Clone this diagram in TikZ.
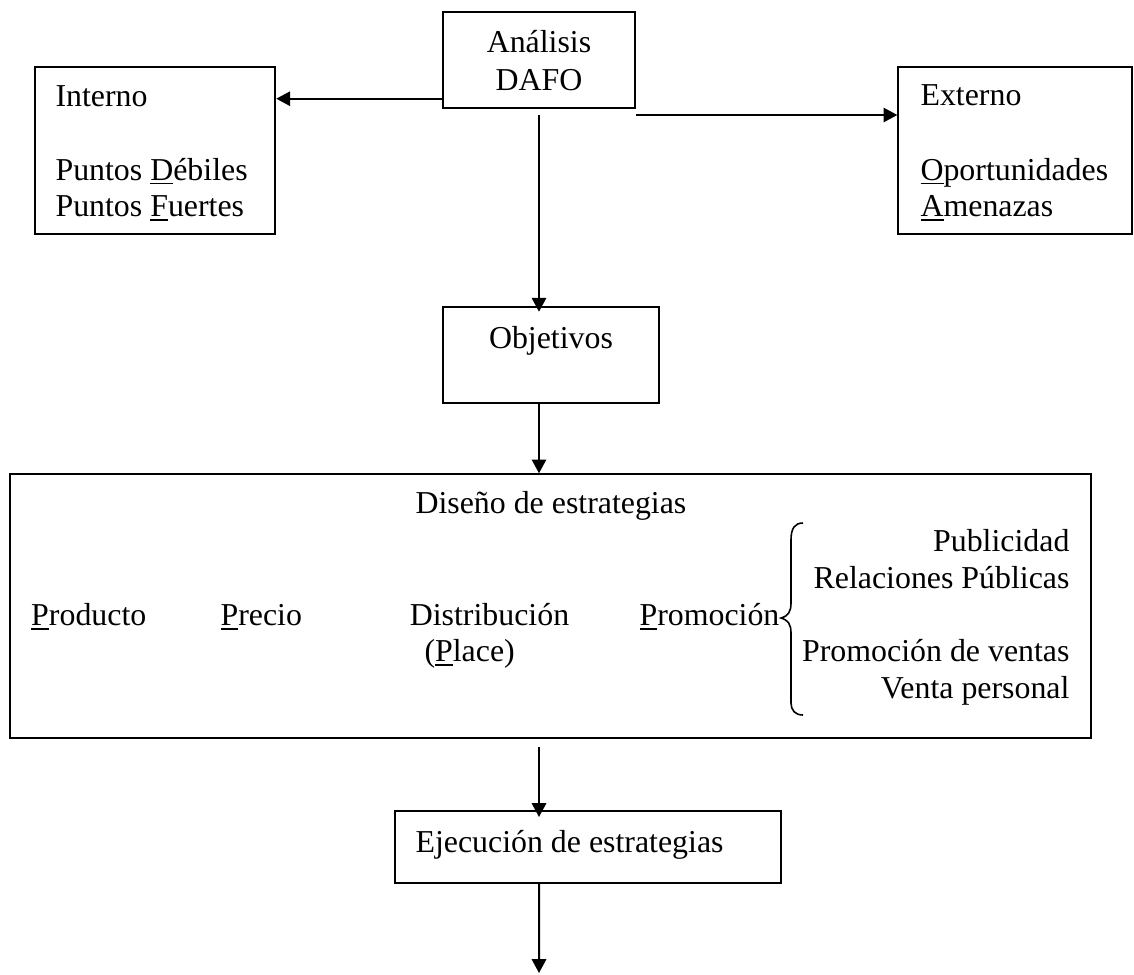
\documentclass[tikz,border=0pt]{standalone}
\usepackage{fontspec}
\setmainfont{Liberation Serif}
\usetikzlibrary{arrows.meta,fit,calc}
\newcommand\uln[1]{\setbox0\hbox{#1}\rlap{\rule[-1.6pt]{\wd0}{0.6pt}}#1}
\begin{document}
\begin{tikzpicture}[x=0.3765pt,y=-0.3765pt,
  box/.style={draw,line width=0.75pt,inner sep=0pt},
  txt/.style={inner sep=0pt,font=\fontsize{12}{13.8}\selectfont},
  lt/.style={txt,anchor=base west},
  rt/.style={txt,anchor=base east},
  ct/.style={txt,anchor=base},
  arr/.style={line width=0.75pt,-{Triangle[length=5.2pt,width=5.4pt]}},
  brc/.style={line width=0.6pt}]
\useasboundingbox (0,0) rectangle (1134,974);
% boxes
\node[box,fit={(442.7,12.3)(635.3,108.3)}] (dafo) {};
\node[box,fit={(34.7,66.7)(275.3,234.3)}] (interno) {};
\node[box,fit={(898.3,66.7)(1132,234.3)}] (externo) {};
\node[box,fit={(442.7,306.7)(659.3,402.7)}] (obj) {};
\node[box,fit={(10,474.3)(1091,738.3)}] (dis) {};
\node[box,fit={(394.7,811)(781,882.7)}] (eje) {};
% texts
\node[ct] (t1) at (539,52.7) {Análisis};
\node[ct] (t2) at (539,90) {DAFO};
\node[lt] (t3) at (55,106.7) {Interno};
\node[lt] (t4) at (55,180) {Puntos \uln{D}ébiles};
\node[lt] (t5) at (55,216.7) {Puntos \uln{F}uertes};
\node[lt] (t6) at (920,105.7) {Externo};
\node[lt] (t7) at (920,180) {\uln{O}portunidades};
\node[lt] (t8) at (920,216.7) {\uln{A}menazas};
\node[ct] (t9) at (551,348.3) {Objetivos};
\node[lt] (t10) at (415,513) {Diseño de estrategias};
\node[lt] (t11) at (30.7,625.7) {\uln{P}roducto};
\node[lt] (t12) at (220,625.7) {\uln{P}recio};
\node[lt] (t13) at (409.3,625.7) {Distribución};
\node[lt] (t14) at (424,661.7) {(\uln{P}lace)};
\node[lt] (t15) at (639,625.7) {\uln{P}romoción};
\node[rt] (t16) at (1070,551.7) {Publicidad};
\node[rt] (t17) at (1070,588.3) {Relaciones Públicas};
\node[rt] (t18) at (1070,661.7) {Promoción de ventas};
\node[rt] (t19) at (1070,698.3) {Venta personal};
\node[lt] (t20) at (415,852) {Ejecución de estrategias};
% brace
\draw[brc] (803,523) .. controls (795,523) and (791,528) .. (791,540)
  -- (791,603) .. controls (791,612) and (788,616) .. (781,618)
  .. controls (788,620) and (791,624) .. (791,633)
  -- (791,703) .. controls (791,710) and (795,715) .. (803,715);
% connectors
\coordinate (yl) at (0,98.7);
\coordinate (yr) at (0,115);
\coordinate (fin) at (539,973);
\draw[arr] (dafo.west |- yl) -- (interno.east |- yl);
\draw[arr] (dafo.east |- yr) -- (externo.west |- yr);
\draw[arr] ($(dafo.south)+(0,6)$) -- ($(dafo.south |- obj.north)+(0,6)$);
\draw[arr] (obj.south -| dafo.south) -- (dis.north -| dafo.south);
\draw[arr] ($(dis.south -| dafo.south)+(0,8)$) -- ($(eje.north -| dafo.south)+(0,7)$);
\draw[arr] (eje.south -| dafo.south) -- (fin);
\end{tikzpicture}
\end{document}
